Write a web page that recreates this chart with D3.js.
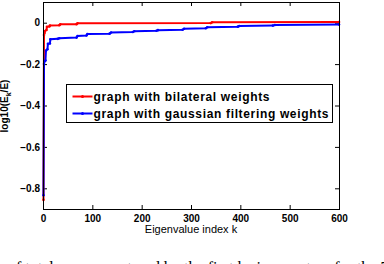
<!DOCTYPE html>
<meta charset="utf-8">
<style>
    body { margin: 0; background: #fff; }
    svg { display: block; font-family: "Liberation Sans", Arial, sans-serif; }
    .tick text { font-weight: bold; font-size: 10px; fill: #000; }
</style>
<body>
<script src="https://cdn.jsdelivr.net/npm/d3@7"></script>
<script>
    var width = 384,
        height = 264,
        margin = {left: 43, right: 45, top: 2, bottom: 55};

    // energy ratio per eigenvalue index
    var bilateralK =   [1, 2, 3, 4, 7, 8, 13, 14, 33, 35, 68, 70, 340, 343, 600];
    var bilateralVal = [-0.856, -0.06, -0.05, -0.04, -0.035, -0.02, -0.018, -0.014, -0.012, -0.008, -0.007, -0.003, -0.002, 0.002, 0.003];

    var gaussianK =   [1, 2, 3, 5, 6, 9, 10, 14, 15, 30, 33, 68, 70, 88, 90, 135, 138, 182, 185, 230, 233, 283, 286, 330, 333, 395, 398, 466, 470, 600];
    var gaussianVal = [-0.834, -0.2, -0.187, -0.183, -0.135, -0.128, -0.102, -0.1, -0.08, -0.078, -0.075, -0.072, -0.064, -0.062, -0.055, -0.053, -0.047, -0.045, -0.041, -0.039, -0.036, -0.034, -0.029, -0.027, -0.022, -0.019, -0.016, -0.014, -0.011, -0.009];

    var xTicks = [0, 100, 200, 300, 400, 500, 600];
    var yTicks = [-0.8, -0.6, -0.4, -0.2, 0];

    var series = [
        {name: "graph with bilateral weights", color: "#ff0000", k: bilateralK, v: bilateralVal, len: 176},
        {name: "graph with gaussian filtering weights", color: "#0000ff", k: gaussianK, v: gaussianVal, len: 235}
    ];

    var svg = d3.select("body").append("svg")
        .attr("width", width)
        .attr("height", height);

    var x = d3.scaleLinear().domain([0, 600]).range([margin.left, width - margin.right]);
    var y = d3.scaleLinear().domain([-0.9, 0.1]).range([height - margin.bottom, margin.top]);

    var fmt = function (d) { return d === 0 ? "0" : d3.format(".1f")(d).replace("-", "\u2212"); };

    // axes, MATLAB style: ticks pointing inward on all four sides
    svg.append("g")
        .attr("transform", "translate(0," + y.range()[0] + ")")
        .call(d3.axisBottom(x).tickValues(xTicks).tickSize(-4).tickPadding(6).tickSizeOuter(0))
        .call(function (g) { g.select(".domain").remove(); });
    svg.append("g")
        .attr("transform", "translate(0," + y.range()[1] + ")")
        .call(d3.axisTop(x).tickValues(xTicks).tickSize(-4).tickFormat("").tickSizeOuter(0))
        .call(function (g) { g.select(".domain").remove(); });
    svg.append("g")
        .attr("transform", "translate(" + x.range()[0] + ",0)")
        .call(d3.axisLeft(y).tickValues(yTicks).tickSize(-4).tickPadding(3).tickFormat(fmt).tickSizeOuter(0))
        .call(function (g) { g.select(".domain").remove(); });
    svg.append("g")
        .attr("transform", "translate(" + x.range()[1] + ",0)")
        .call(d3.axisRight(y).tickValues(yTicks).tickSize(-4).tickFormat("").tickSizeOuter(0))
        .call(function (g) { g.select(".domain").remove(); });

    svg.selectAll(".tick line").attr("stroke", "#000");

    var line = d3.line()
        .x(function (d) { return x(d[0]); })
        .y(function (d) { return y(d[1]); });

    series.forEach(function (s) {
        var pts = d3.zip(s.k, s.v);
        svg.append("path")
            .attr("d", line(pts))
            .attr("fill", "none")
            .attr("stroke", s.color)
            .attr("stroke-width", 2);
        svg.append("g").selectAll("circle")
            .data(pts)
            .enter().append("circle")
            .attr("cx", function (d) { return x(d[0]); })
            .attr("cy", function (d) { return y(d[1]); })
            .attr("r", 1.3)
            .attr("fill", s.color);
    });

    // frame
    svg.append("rect")
        .attr("x", x.range()[0] + 0.5)
        .attr("y", y.range()[1] + 0.5)
        .attr("width", x.range()[1] - x.range()[0])
        .attr("height", y.range()[0] - y.range()[1])
        .attr("fill", "none")
        .attr("stroke", "#000");

    // legend
    var legend = svg.append("g").attr("transform", "translate(66.5,84.5)");
    legend.append("rect")
        .attr("width", 266)
        .attr("height", 38)
        .attr("fill", "#fff")
        .attr("stroke", "#000");
    series.forEach(function (s, i) {
        var ly = 12 + i * 17;
        legend.append("line")
            .attr("x1", 6).attr("x2", 26)
            .attr("y1", ly).attr("y2", ly)
            .attr("stroke", s.color)
            .attr("stroke-width", 2);
        legend.append("circle")
            .attr("cx", 16).attr("cy", ly).attr("r", 1.5)
            .attr("fill", s.color);
        legend.append("text")
            .attr("x", 27)
            .attr("y", ly + 4)
            .attr("font-size", "12px")
            .attr("font-weight", "bold")
            .attr("textLength", s.len)
            .attr("lengthAdjust", "spacing")
            .text(s.name);
    });

    // axis labels
    svg.append("text")
        .attr("x", (x.range()[0] + x.range()[1]) / 2)
        .attr("y", 233)
        .attr("text-anchor", "middle")
        .attr("font-size", "11px")
        .text("Eigenvalue index k");

    var yl = svg.append("text")
        .attr("transform", "translate(8,106) rotate(-90)")
        .attr("text-anchor", "middle")
        .attr("font-size", "10px")
        .attr("font-weight", "bold");
    yl.append("tspan").text("log10(E");
    yl.append("tspan").attr("font-size", "7px").attr("dy", 3).text("k");
    yl.append("tspan").attr("dy", -3).text("/E)");

    // top of the next caption line, cut by the page edge
    svg.append("text")
        .attr("x", 8)
        .attr("y", 273)
        .attr("font-family", "Liberation Serif, serif")
        .attr("font-size", "16px")
        .text("of total energy captured by the first k eigenvectors for the 7");
</script>
</body>
